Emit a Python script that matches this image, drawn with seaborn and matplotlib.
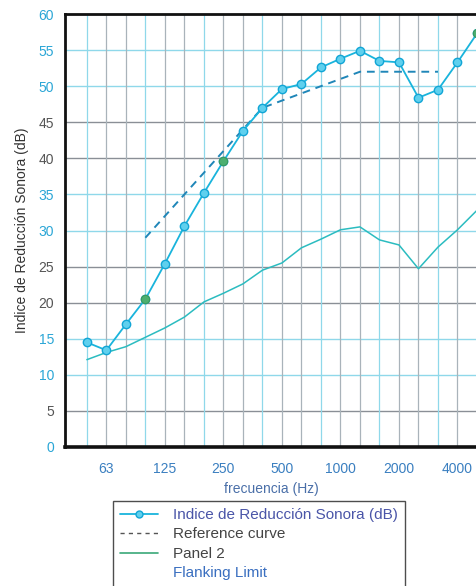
import numpy as np
import pandas as pd
import matplotlib
matplotlib.use("Agg")
import matplotlib.pyplot as plt
from matplotlib.lines import Line2D
import seaborn as sns

# ---- data ----
bands = [50, 63, 80, 100, 125, 160, 200, 250, 315, 400, 500, 630, 800,
         1000, 1250, 1600, 2000, 2500, 3150, 4000, 5000]
r_index = [14.5, 13.4, 17.0, 20.5, 25.4, 30.6, 35.2, 39.6, 43.8, 47.0, 49.6,
           50.3, 52.6, 53.8, 54.9, 53.5, 53.3, 48.4, 49.5, 53.3, 57.3]
ref_bands = [100, 125, 160, 200, 250, 315, 400, 500, 630, 800, 1000, 1250,
             1600, 2000, 2500, 3150]
ref_curve = [29, 32, 35, 38, 41, 44, 47, 48, 49, 50, 51, 52, 52, 52, 52, 52]
panel2 = [12.1, 13.1, 13.9, 15.2, 16.5, 18.0, 20.1, 21.3, 22.6, 24.5, 25.5,
          27.6, 28.8, 30.1, 30.5, 28.7, 28.0, 24.7, 27.7, 30.1, 32.8]
green_bands = [100, 250, 5000]
xtick_labels = ["63", "125", "250", "500", "1000", "2000", "4000"]
yticks = [0, 5, 10, 15, 20, 25, 30, 35, 40, 45, 50, 55, 60]

pos = {b: i for i, b in enumerate(bands)}
df_main = pd.DataFrame({"x": [pos[b] for b in bands], "y": r_index})
df_ref = pd.DataFrame({"x": [pos[b] for b in ref_bands], "y": ref_curve})
df_p2 = pd.DataFrame({"x": [pos[b] for b in bands], "y": panel2})
df_green = pd.DataFrame({"x": [pos[b] for b in green_bands],
                         "y": [r_index[pos[b]] for b in green_bands]})

sns.set_style("white")
plt.rcParams["font.family"] = ["Liberation Sans", "DejaVu Sans"]

fig = plt.figure(figsize=(4.77, 5.86), dpi=100)
ax = fig.add_axes([65 / 477, 1 - 447 / 586, 1 - 65 / 477, (447 - 14) / 586])

CYAN = "#19b4dc"
GRAY = "#8a8f96"
LCYAN = "#8fd8ea"

# grid lines
gray_y = {5, 20, 25, 40, 45}
for v in yticks[1:-1]:
    ax.axhline(v, color=GRAY if v in gray_y else LCYAN, lw=1.0, zorder=0)
for i in range(len(bands)):
    ax.axvline(i, color="#a9b3ba" if i % 3 else LCYAN, lw=0.9, zorder=0)

sns.lineplot(data=df_p2, x="x", y="y", ax=ax, color="#2bbcc0", lw=1.1,
             sort=False, zorder=3)
sns.lineplot(data=df_ref, x="x", y="y", ax=ax, color="#1f86b8", lw=1.4,
             dashes=False, sort=False, zorder=3, linestyle=(0, (4, 3)))
sns.lineplot(data=df_main, x="x", y="y", ax=ax, color=CYAN, lw=1.3,
             marker="o", markersize=6, markerfacecolor="#5fd0ee",
             markeredgecolor="#12a6d6", markeredgewidth=1.0, sort=False,
             zorder=4)
sns.scatterplot(data=df_green, x="x", y="y", ax=ax, color="#4caf70", s=36,
                edgecolor="#3a9a5e", linewidth=0.8, zorder=5)

ax.set_xlim(-1.12, 19.9)
ax.set_ylim(0, 60)

ax.set_yticks(yticks)
ax.set_yticks(np.arange(0, 61, 1), minor=True)
ax.tick_params(axis="y", which="major", length=5, width=1, color="#333333",
               labelsize=10, pad=3)
ax.tick_params(axis="y", which="minor", length=3, width=0.8, color="#555555")
for lab, v in zip(ax.get_yticklabels(), yticks):
    lab.set_color("#555555" if v in gray_y else "#2aa6d6")

ax.set_xticks([pos[int(t)] for t in [63, 125, 250, 500, 1000, 2000, 4000]])
ax.set_xticklabels(xtick_labels)
ax.set_xticks(range(len(bands)), minor=True)
ax.tick_params(axis="x", which="both", length=5, width=0.9, color=LCYAN,
               labelsize=10, labelcolor="#3a7fc0", pad=6)

ax.set_xlabel("frecuencia (Hz)", fontsize=10, color="#4a6fa8", labelpad=4)
ax.set_ylabel("Indice de Reducción Sonora (dB)", fontsize=10, color="#333333",
              labelpad=7)

for s in ["left", "bottom", "top"]:
    ax.spines[s].set_color("#111111")
ax.spines["left"].set_linewidth(2.0)
ax.spines["bottom"].set_linewidth(2.6)
ax.spines["top"].set_linewidth(2.0)
ax.spines["right"].set_visible(False)

handles = [
    Line2D([], [], color=CYAN, lw=1.3, marker="o", markersize=5,
           markerfacecolor="#5fd0ee", markeredgecolor="#12a6d6"),
    Line2D([], [], color="#555555", lw=1.0, linestyle=(0, (3, 3))),
    Line2D([], [], color="#3aa878", lw=1.2),
    Line2D([], [], color="none", lw=0),
]
labels = ["Indice de Reducción Sonora (dB)", "Reference curve", "Panel 2",
          "Flanking Limit"]
leg = fig.legend(handles, labels, loc="upper left",
                 bbox_to_anchor=(113 / 477, 1 - 501 / 586), fontsize=11,
                 frameon=True, fancybox=False, edgecolor="#222222",
                 handlelength=2.5, handletextpad=1.0, labelspacing=0.36,
                 borderpad=0.45, borderaxespad=0)
leg.get_frame().set_linewidth(1.0)
for t, c in zip(leg.get_texts(), ["#4a55a8", "#444444", "#444444", "#3a6fc0"]):
    t.set_color(c)

fig.savefig("out.png", dpi=100)
